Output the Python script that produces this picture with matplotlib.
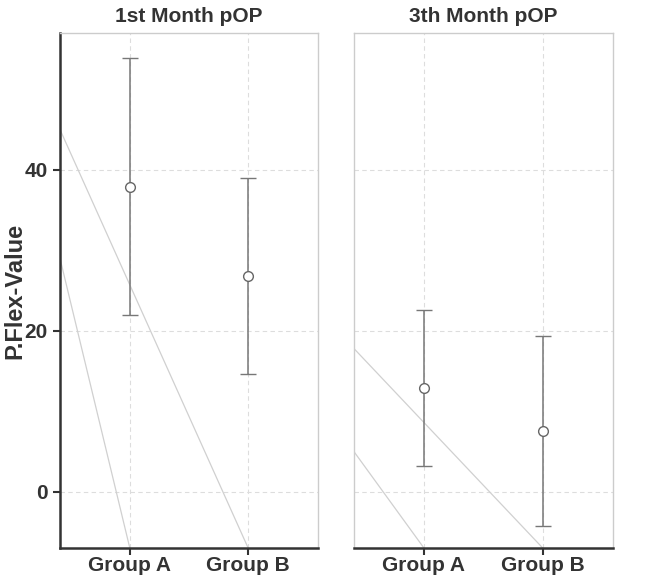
import matplotlib.pyplot as plt

groups = ["Group A", "Group B"]
panels = ["1st Month pOP", "3th Month pOP"]
means = [[37.9, 26.8], [12.9, 7.5]]
sds = [[16.0, 12.2], [9.7, 11.8]]

# faint diagonal lines seen in the original: (start y at left edge, end x, end y)
diag_lines = [
    [(45.0, 2, -7.0), (29.0, 1, -7.0)],
    [(17.8, 2, -7.0), (5.0, 1, -7.0)],
]

plt.rcParams["font.family"] = "Liberation Sans"

fig = plt.figure(figsize=(6.54, 5.8), dpi=100)
ax1 = fig.add_axes([0.0917, 0.0552, 0.3945, 0.888])
ax2 = fig.add_axes([0.541, 0.0552, 0.396, 0.888], sharey=ax1)
xpos = [1, 2]
xlim = (0.41, 2.59)

for i, ax in enumerate([ax1, ax2]):
    ax.set_xlim(*xlim)
    ax.set_ylim(-7, 57)
    ax.grid(True, color="#dddddd", linestyle=(0, (4, 3)), linewidth=0.8)
    ax.set_axisbelow(True)
    for y0, x1, y1 in diag_lines[i]:
        ax.plot([xlim[0], x1], [y0, y1], color="#d0d0d0", linewidth=0.9, zorder=1)
    ax.errorbar(xpos, means[i], yerr=sds[i], fmt="o", color="#777777",
                ecolor="#777777", elinewidth=1.1, capsize=6, capthick=1.1,
                markersize=7, markerfacecolor="white", markeredgecolor="#666666",
                markeredgewidth=1.0, zorder=3)
    ax.set_xticks(xpos)
    ax.set_xticklabels(groups, fontsize=15, fontweight="bold", color="#333333")
    ax.set_yticks([0, 20, 40])
    ax.set_title(panels[i], fontsize=15, fontweight="bold", color="#333333", pad=8)
    for s in ["top", "right"]:
        ax.spines[s].set_color("#cccccc")
        ax.spines[s].set_linewidth(1.0)
    ax.spines["bottom"].set_color("#333333")
    ax.spines["bottom"].set_linewidth(1.8)
    ax.tick_params(axis="x", length=5, width=1.5, color="#333333", pad=1)

ax1.spines["left"].set_color("#333333")
ax1.spines["left"].set_linewidth(1.8)
ax1.tick_params(axis="y", length=5, width=1.5, color="#333333", labelsize=15,
                labelcolor="#333333", pad=4)
for t in ax1.get_yticklabels():
    t.set_fontweight("bold")
ax1.set_ylabel("P.Flex-Value", fontsize=17, fontweight="bold", color="#333333")
ax1.yaxis.set_label_coords(-0.13, 0.5)

ax2.spines["left"].set_color("#cccccc")
ax2.spines["left"].set_linewidth(1.0)
ax2.tick_params(axis="y", left=False, labelleft=False)

fig.savefig("out.png", dpi=100)
